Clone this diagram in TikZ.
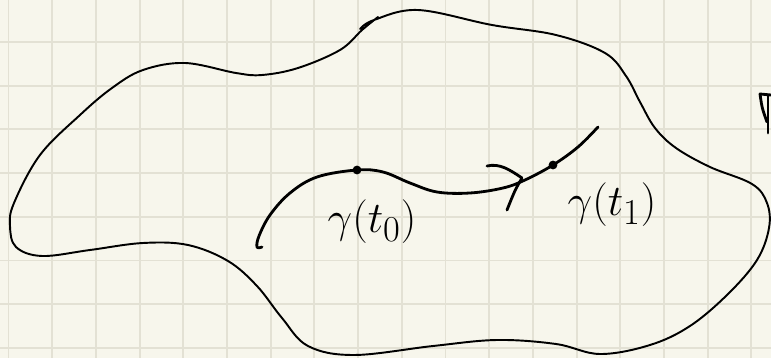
\documentclass[tikz,border=0pt]{standalone}
\usepackage{tikz}
\usetikzlibrary{arrows.meta}

\definecolor{paper}{HTML}{F7F6EC}
\definecolor{gridline}{HTML}{E3E1D4}

\begin{document}
\begin{tikzpicture}[
    x=0.02cm, y=-0.02cm,
    grid line/.style={draw=gridline, line width=1.1pt},
    pen/.style={draw=black, line width=1.1pt, line cap=round, line join=round},
    thickpen/.style={draw=black, line width=1.6pt, line cap=round, line join=round},
    dot/.style={circle, fill=black, inner sep=0pt, minimum size=5pt},
    lbl/.style={font=\Huge, inner sep=0pt}
]
\useasboundingbox[fill=paper] (0,0) rectangle (771,358);

% squared paper
\foreach \i in {0,...,17}
    \draw[grid line] ({8.5+43.7*\i},0) -- ({8.5+43.7*\i},358);
\foreach \j in {0,...,7}
    \draw[grid line] (0,{42+43.7*\j}) -- (771,{42+43.7*\j});

% the region
\draw[pen] plot[smooth, tension=0.6] coordinates {
    (360,29) (374,20) (418,10) (492,25) (556,35) (605,53) (626,76)
    (640,102) (655,128) (676,148) (710,167) (752,184) (767,203)
    (769,228) (757,260) (728,294) (690,326) (650,345) (600,354)
    (556,344) (497,340) (433,346) (354,355) (308,346) (282,318)
    (257,286) (228,261) (188,245) (143,243) (90,250) (42,256)
    (16,247) (10,226) (14,203) (40,155) (80,115) (112,88) (143,70)
    (185,63) (236,73) (262,75) (298,68) (340,50) (362,30) (378,17)};

% the path gamma
\node[dot] (t0) at (357,170) {};
\node[dot] (t1) at (553,165) {};
\draw[thickpen] plot[smooth, tension=0.6] coordinates {
    (262,247) (257,247) (259,236) (270,215) (290,193) (317,177)
    (357,170) (383,172) (410,183) (437,192) (470,193) (503,188)
    (525,180) (553,165) (578,147) (598,127)};

% direction
\coordinate (tip) at (522,178);
\draw[thickpen] (487,166) .. controls (500,163) and (510,170) .. (tip)
    .. controls (515,190) .. (507,210);

% labels
\node[lbl] (g0) at (372,222) {$\gamma(t_0)$};
\node[lbl] (g1) at (612,205) {$\gamma(t_1)$};

% cut-off mark at the right edge
\draw[thickpen] (771,95) -- (760,94) .. controls (762,108) .. (767,122);
\draw[thickpen] (768,96) -- (768,133);
\end{tikzpicture}
\end{document}
